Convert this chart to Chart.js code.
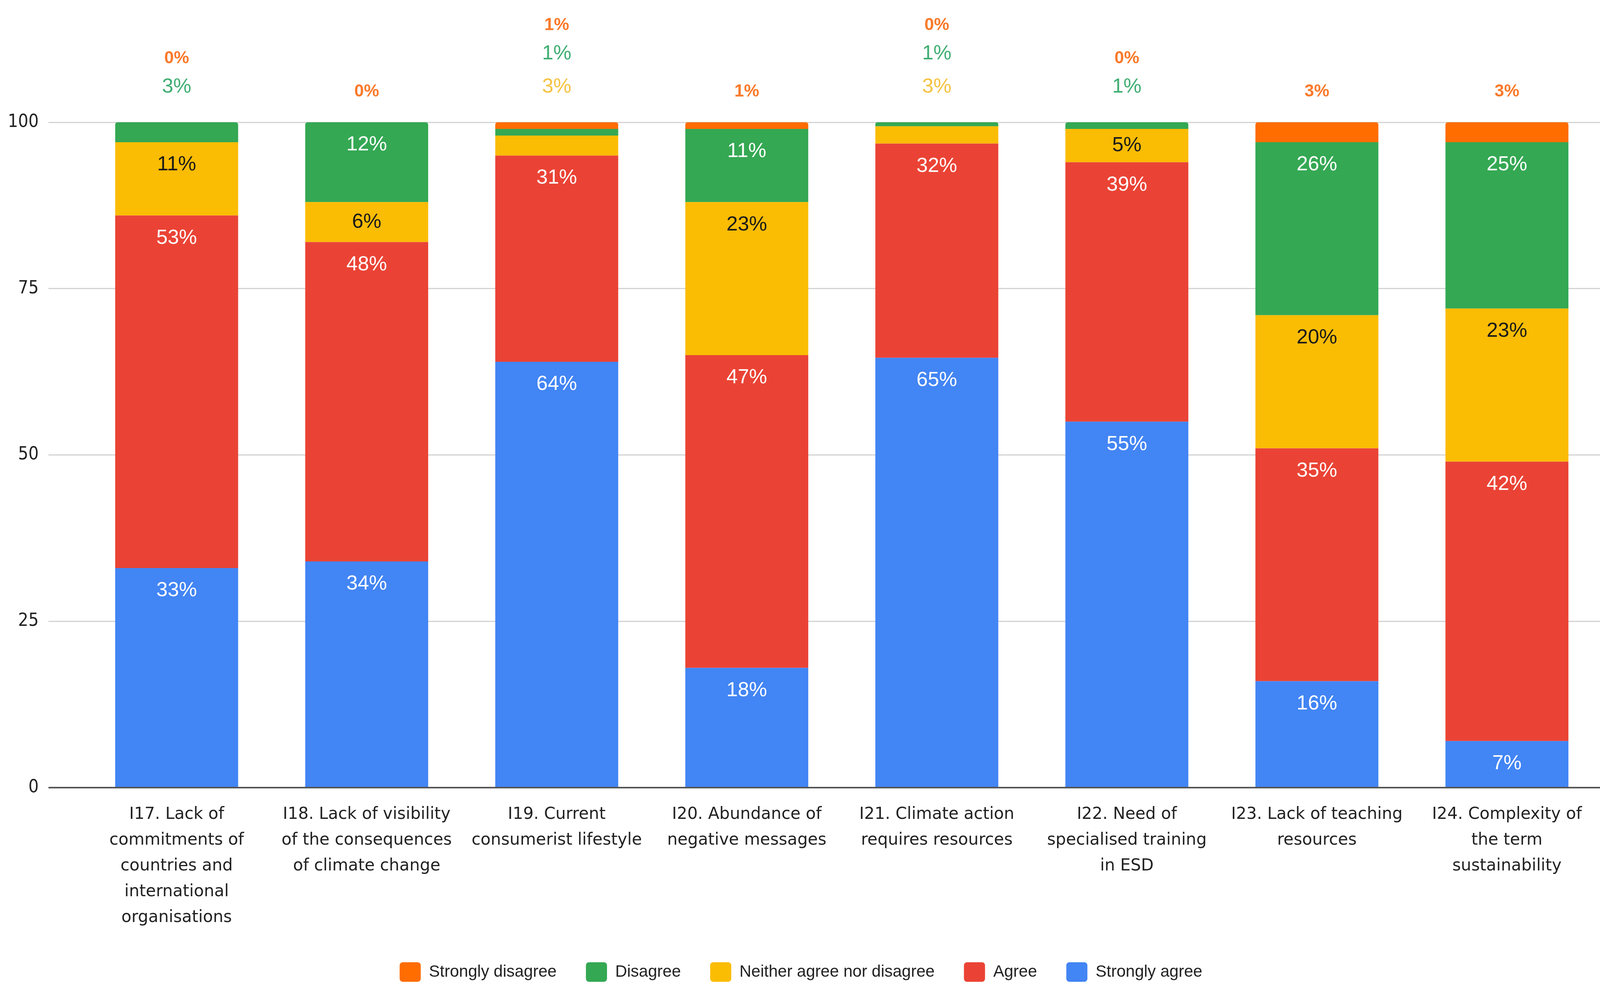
<!DOCTYPE html>
<html>
<head>
<meta charset="utf-8">
<script src="https://cdn.jsdelivr.net/npm/chart.js@4.4.0/dist/chart.umd.min.js"></script>
<style>
html, body { margin: 0; padding: 0; background: #fff; }
#wrap { width: 4214px; height: 2534px; }
</style>
</head>
<body>
<div id="wrap"><canvas id="myChart"></canvas></div>
<script>
const categories = [
    ['I17. Lack of', 'commitments of', 'countries and', 'international', 'organisations'],
    ['I18. Lack of visibility', 'of the consequences', 'of climate change'],
    ['I19. Current', 'consumerist lifestyle'],
    ['I20. Abundance of', 'negative messages'],
    ['I21. Climate action', 'requires resources'],
    ['I22. Need of', 'specialised training', 'in ESD'],
    ['I23. Lack of teaching', 'resources'],
    ['I24. Complexity of', 'the term', 'sustainability']
];
const strongAgree    = [33, 34, 64, 18, 64.6, 55, 16, 7];
const agree          = [53, 48, 31, 47, 32.2, 39, 35, 42];
const neither        = [11, 6, 3, 23, 2.6, 5, 20, 23];
const disagree       = [3, 12, 1, 11, 0.6, 1, 26, 25];
const strongDisagree = [0, 0, 1, 1, 0, 0, 3, 3];
const yTicks = [0, 25, 50, 75, 100];

const seriesNames  = ['Strongly agree', 'Agree', 'Neither agree nor disagree', 'Disagree', 'Strongly disagree'];
const seriesColors = ['#4285f4', '#ea4335', '#fbbc04', '#34a853', '#ff6d01'];
const outsideColors = ['#4285f4', '#ea4335', '#f6c342', '#3fae72', '#fa7a2a'];
const seriesData   = [strongAgree, agree, neither, disagree, strongDisagree];

const family = '"Liberation Sans", Arial, sans-serif';
Chart.defaults.font.family = family;

// percent labels: inside the segment when big enough, stacked above the bar otherwise
const barLabels = {
    id: 'barLabels',
    afterDatasetsDraw(chart) {
        const ctx = chart.ctx;
        const yScale = chart.scales.y;
        ctx.save();
        ctx.textAlign = 'center';
        ctx.textBaseline = 'middle';
        categories.forEach((c, j) => {
            let total = 0;
            let slot = 0;
            chart.data.datasets.forEach(ds => total += ds.data[j]);
            const topPx = yScale.getPixelForValue(Math.min(total, 100));
            chart.data.datasets.forEach((ds, i) => {
                const bar = chart.getDatasetMeta(i).data[j];
                const v = ds.data[j];
                const txt = Math.round(v) + '%';
                if (v >= 5) {
                    ctx.font = '52px ' + family;
                    ctx.fillStyle = i === 2 ? '#1a1a1a' : '#ffffff';
                    ctx.fillText(txt, bar.x, Math.min(bar.y + 58, (bar.y + bar.base) / 2));
                } else {
                    const orange = i === 4;
                    ctx.font = orange ? 'bold 44px ' + family : '52px ' + family;
                    ctx.fillStyle = outsideColors[i];
                    ctx.fillText(txt, bar.x, topPx - 90 - 85 * slot + (orange ? 12 : 0));
                    slot++;
                }
            });
        });
        ctx.restore();
    }
};

// grid lines run a little past the plot on the right, like the left tick marks
const rightTicks = {
    id: 'rightTicks',
    beforeDatasetsDraw(chart) {
        const ctx = chart.ctx;
        const yScale = chart.scales.y;
        const x0 = chart.chartArea.right;
        ctx.save();
        yTicks.forEach(v => {
            const y = yScale.getPixelForValue(v);
            ctx.strokeStyle = v === 0 ? '#555555' : '#d3d3d3';
            ctx.lineWidth = v === 0 ? 4 : 3;
            ctx.beginPath();
            ctx.moveTo(x0, y);
            ctx.lineTo(x0 + 82, y);
            ctx.stroke();
        });
        ctx.restore();
    }
};

const legendHeight = {
    id: 'legendHeight',
    beforeInit(chart) {
        const fit = chart.legend.fit;
        chart.legend.fit = function () {
            fit.call(this);
            this.height = 146;
        };
    }
};

const gridColor = c => c.tick && c.tick.value === 0 ? '#555555' : '#d3d3d3';
const gridWidth = c => c.tick && c.tick.value === 0 ? 4 : 3;

// round the top corners of the highest visible segment
const topRadius = c => {
    const j = c.dataIndex;
    const ds = c.chart.data.datasets;
    let last = -1;
    ds.forEach((d, i) => { if (d.data[j] > 0) last = i; });
    return c.datasetIndex === last ? { topLeft: 6, topRight: 6, bottomLeft: 0, bottomRight: 0 } : 0;
};

const ctxMain = document.getElementById('myChart');
const myChart = new Chart(ctxMain, {
    type: 'bar',
    data: {
        labels: categories,
        datasets: seriesNames.map((name, i) => ({
            label: name,
            data: seriesData[i],
            backgroundColor: seriesColors[i],
            borderWidth: 0,
            borderSkipped: false,
            borderRadius: topRadius,
            barPercentage: 0.647,
            categoryPercentage: 1
        }))
    },
    options: {
        responsive: true,
        maintainAspectRatio: false,
        devicePixelRatio: 1,
        animation: false,
        layout: {
            padding: { top: 313, right: 113, bottom: 0, left: 0 }
        },
        scales: {
            x: {
                stacked: true,
                grid: { display: false, drawTicks: false },
                border: { display: false },
                ticks: {
                    padding: 36,
                    color: '#222222',
                    maxRotation: 0,
                    autoSkip: false,
                    font: { family: '"DejaVu Sans", Verdana, sans-serif', size: 42, lineHeight: 1.57 }
                },
                afterFit: s => { s.height = 372; }
            },
            y: {
                stacked: true,
                min: 0,
                max: 100,
                afterBuildTicks: s => { s.ticks = yTicks.map(v => ({ value: v })); },
                afterFit: s => { s.width = 209; },
                grid: { color: gridColor, lineWidth: gridWidth, tickLength: 85 },
                border: { display: false },
                ticks: {
                    padding: 25,
                    color: '#222222',
                    font: { family: '"Liberation Sans Narrow", "DejaVu Sans Condensed", "Liberation Sans", Arial, sans-serif', size: 46 }
                }
            }
        },
        plugins: {
            tooltip: { enabled: false },
            legend: {
                position: 'bottom',
                reverse: true,
                labels: {
                    boxWidth: 54,
                    boxHeight: 50,
                    useBorderRadius: true,
                    borderRadius: 8,
                    padding: 75,
                    color: '#222222',
                    font: { size: 42 }
                }
            }
        }
    },
    plugins: [barLabels, rightTicks, legendHeight]
});
</script>
</body>
</html>
